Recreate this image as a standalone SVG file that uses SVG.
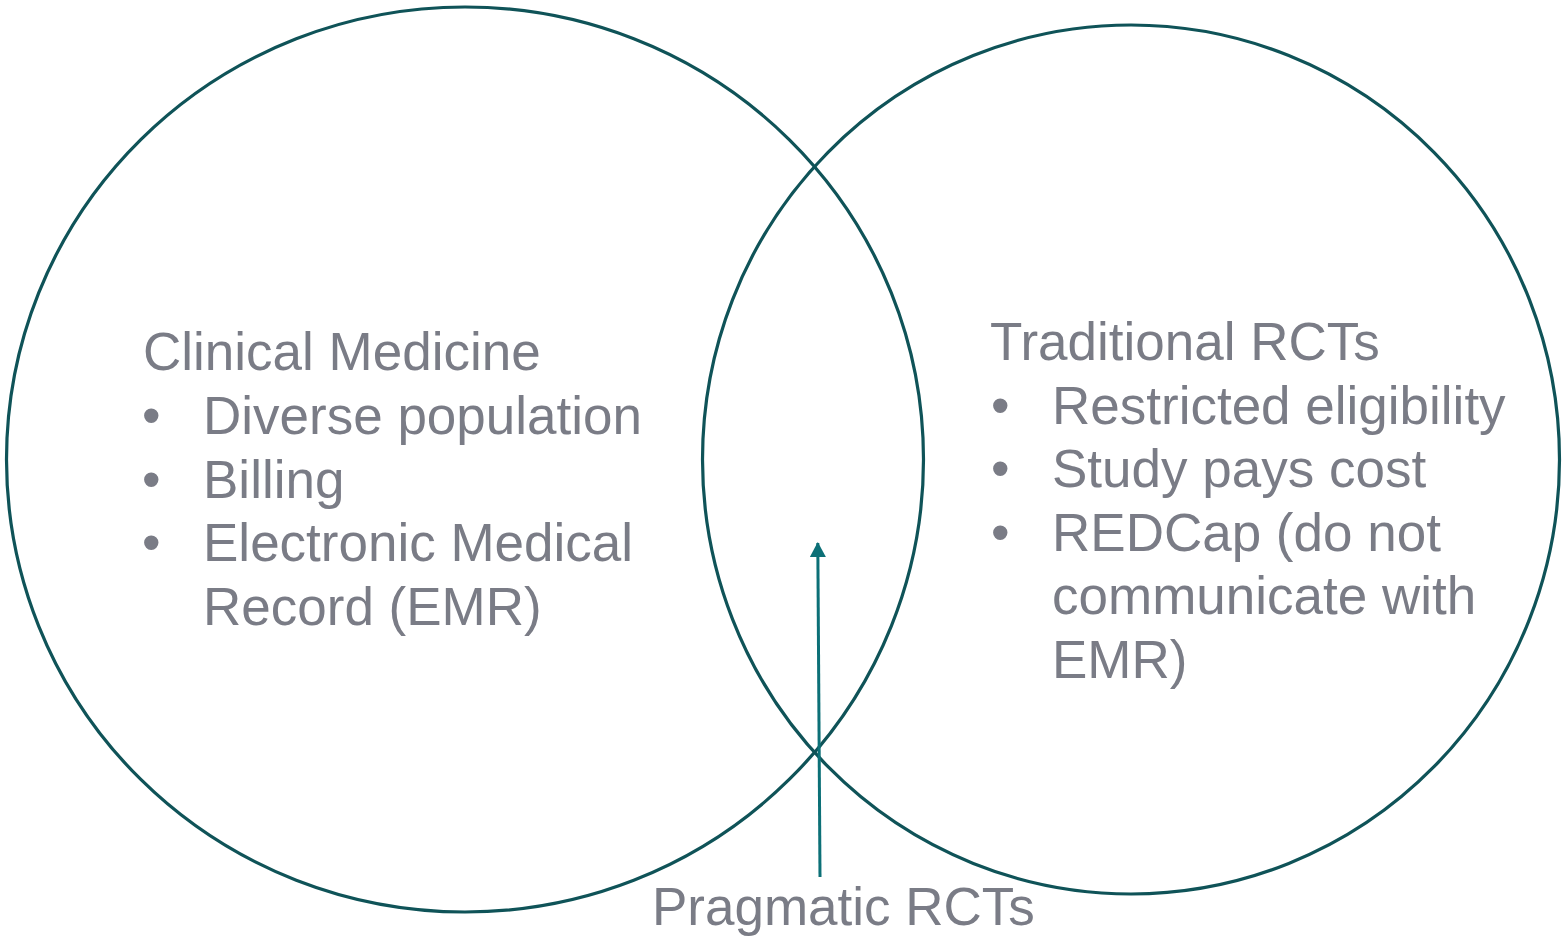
<svg xmlns="http://www.w3.org/2000/svg" width="1563" height="937" viewBox="0 0 1563 937">
  <defs>
    <style>
      .ring { fill: none; stroke: #0f5358; stroke-width: 3.2; }
      .txt { font-family: "Liberation Sans", Arial, sans-serif; font-size: 53px; fill: #7a7c86; }
      .link { stroke: #0c7077; stroke-width: 3; fill: none; }
    </style>
    <marker id="arrowHead" viewBox="0 0 16 16" refX="14" refY="8" markerWidth="16" markerHeight="16" markerUnits="userSpaceOnUse" orient="auto">
      <path d="M0,0 L15,8 L0,16 Z" fill="#0c7077"/>
    </marker>
  </defs>
  <rect width="1563" height="937" fill="#ffffff"/>

  <!-- Left set: clinical medicine -->
  <g id="clinical-medicine">
    <ellipse class="ring" cx="465" cy="459.5" rx="458.5" ry="452.5"/>
    <text class="txt" x="143" y="370">Clinical Medicine</text>
    <text class="txt" x="142" y="434">•</text>
    <text class="txt" x="203" y="434">Diverse population</text>
    <text class="txt" x="142" y="498">•</text>
    <text class="txt" x="203" y="498">Billing</text>
    <text class="txt" x="142" y="561">•</text>
    <text class="txt" x="203" y="561">Electronic Medical</text>
    <text class="txt" x="203" y="625">Record (EMR)</text>
  </g>

  <!-- Right set: traditional RCTs -->
  <g id="traditional-rcts">
    <ellipse class="ring" cx="1131" cy="459.5" rx="428.5" ry="434.5"/>
    <text class="txt" x="990" y="360">Traditional RCTs</text>
    <text class="txt" x="991" y="424">•</text>
    <text class="txt" x="1052" y="424">Restricted eligibility</text>
    <text class="txt" x="991" y="487">•</text>
    <text class="txt" x="1052" y="487">Study pays cost</text>
    <text class="txt" x="991" y="551">•</text>
    <text class="txt" x="1052" y="551">REDCap (do not</text>
    <text class="txt" x="1052" y="614">communicate with</text>
    <text class="txt" x="1052" y="678">EMR)</text>
  </g>

  <!-- Overlap label -->
  <g id="pragmatic-rcts">
    <text class="txt" x="652" y="925">Pragmatic RCTs</text>
  </g>

  <!-- Pointer from label into the overlap -->
  <g id="connectors">
    <line class="link" x1="820" y1="877" x2="817.8" y2="543" marker-end="url(#arrowHead)"/>
  </g>
</svg>
